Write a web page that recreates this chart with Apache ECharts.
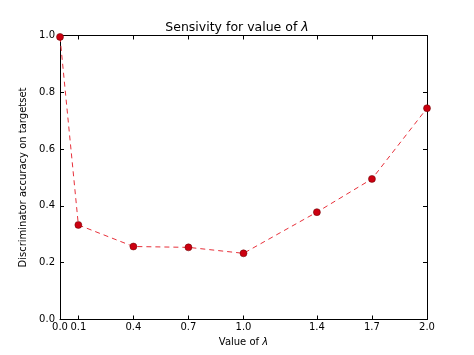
<!DOCTYPE html>
<html>
<head>
<meta charset="utf-8">
<script src="https://cdn.jsdelivr.net/npm/echarts@6/dist/echarts.min.js"></script>
<style>
html,body{margin:0;padding:0;background:#fff;}
#chart{width:474px;height:355px;}
</style>
</head>
<body>
<div id="chart"></div>
<script>
const lambdaValues = [0.0, 0.1, 0.4, 0.7, 1.0, 1.4, 1.7, 2.0];
const accuracy = [0.995, 0.333, 0.257, 0.254, 0.233, 0.378, 0.495, 0.744];
const xTickValues = [0.0, 0.1, 0.4, 0.7, 1.0, 1.4, 1.7, 2.0];
const yTickValues = [0.0, 0.2, 0.4, 0.6, 0.8, 1.0];

const FONT = 'DejaVu Sans';
const chart = echarts.init(document.getElementById('chart'), null, {renderer: 'canvas'});

const baseX = {
  type: 'value', min: 0, max: 2,
  splitLine: {show: false},
  axisLine: {show: true, onZero: false, lineStyle: {color: '#000', width: 1}},
  axisTick: {show: true, inside: true, length: 4, customValues: xTickValues, lineStyle: {color: '#000'}},
};
const baseY = {
  type: 'value', min: 0, max: 1, interval: 0.2,
  splitLine: {show: false},
  axisLine: {show: true, onZero: false, lineStyle: {color: '#000', width: 1}},
  axisTick: {show: true, inside: true, length: 4, customValues: yTickValues, lineStyle: {color: '#000'}},
};

chart.setOption({
  animation: false,
  backgroundColor: '#fff',
  title: {
    text: 'Sensivity for value of {l|λ}',
    left: 'center', top: 21, padding: 0,
    textStyle: {fontFamily: FONT, fontSize: 12.5, fontWeight: 'normal', color: '#000',
      rich: {l: {fontFamily: FONT, fontSize: 12.5, fontStyle: 'italic', color: '#000'}}}
  },
  grid: {left: 60, right: 47, top: 35.5, bottom: 35.5, containLabel: false},
  xAxis: [
    Object.assign({}, baseX, {
      position: 'bottom',
      name: 'Value of {l|λ}', nameLocation: 'middle', nameGap: 17,
      nameTextStyle: {fontFamily: FONT, fontSize: 10, color: '#000',
        rich: {l: {fontFamily: FONT, fontSize: 10, fontStyle: 'italic', color: '#000'}}},
      axisLabel: {show: true, customValues: xTickValues, margin: 3, fontFamily: FONT, fontSize: 10, color: '#000',
        formatter: v => v.toFixed(1)}
    }),
    Object.assign({}, baseX, {position: 'top', axisLabel: {show: false}})
  ],
  yAxis: [
    Object.assign({}, baseY, {
      position: 'left',
      name: 'Discriminator accuracy on targetset', nameLocation: 'middle', nameGap: 24,
      nameTextStyle: {fontFamily: FONT, fontSize: 10, color: '#000'},
      axisLabel: {show: true, customValues: yTickValues, margin: 5, fontFamily: FONT, fontSize: 10, color: '#000',
        formatter: v => v.toFixed(1)}
    }),
    Object.assign({}, baseY, {position: 'right', axisLabel: {show: false}})
  ],
  series: [{
    type: 'line',
    xAxisIndex: 0, yAxisIndex: 0,
    data: lambdaValues.map((x, i) => [x, accuracy[i]]),
    lineStyle: {color: '#e8303a', width: 1, type: [5, 4]},
    symbol: 'circle', symbolSize: 7,
    itemStyle: {color: '#cc0010', borderColor: '#600000', borderWidth: 0.5},
    clip: false
  }]
});
</script>
</body>
</html>
